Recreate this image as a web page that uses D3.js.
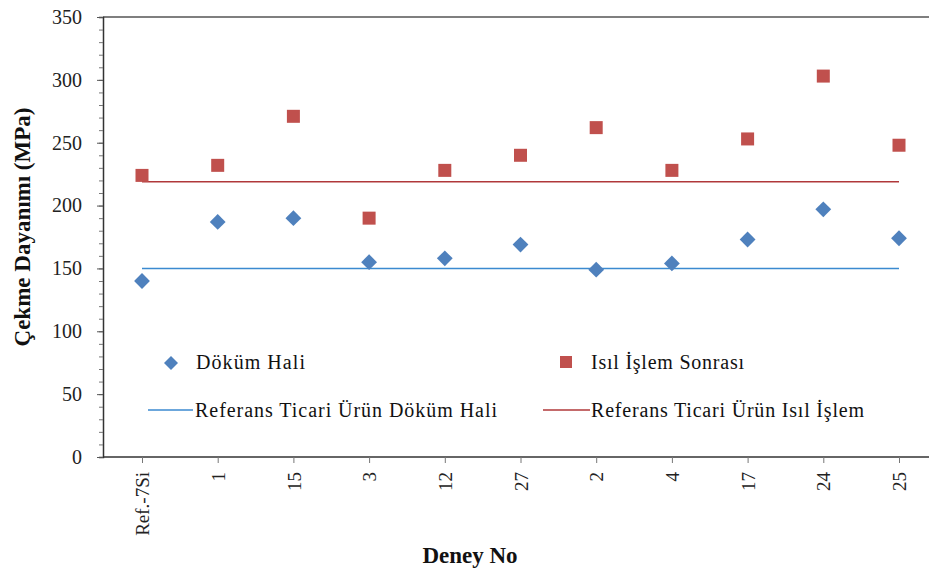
<!DOCTYPE html>
<html>
<head>
<meta charset="utf-8">
<script src="https://cdn.jsdelivr.net/npm/d3@7"></script>
<style>
  body { margin: 0; background: #fff; }
  svg { display: block; }
  text { font-family: "Liberation Serif", "Times New Roman", serif; }
</style>
</head>
<body>
<svg id="chart" width="929" height="572"></svg>
<script>
  // data
  var categories = ["Ref.-7Si", "1", "15", "3", "12", "27", "2", "4", "17", "24", "25"];
  var dokumHali = [140, 187, 190, 155, 158, 169, 149, 154, 173, 197, 174];
  var isilIslem = [224, 232, 271, 190, 228, 240, 262, 228, 253, 303, 248];
  var refDokum = 150;
  var refIsil = 219;
  var yTicks = [0, 50, 100, 150, 200, 250, 300, 350];

  var serif = "Liberation Serif";
  var svg = d3.select("#chart");
  var plotL = 103, plotR = 929, plotT = 17, plotB = 457;

  var x = d3.scalePoint().domain(categories).range([142, 899]);
  var y = d3.scaleLinear().domain([0, 350]).range([plotB, plotT]);

  // top border of plot area
  svg.append("line")
    .attr("x1", plotL).attr("x2", plotR).attr("y1", plotT).attr("y2", plotT)
    .attr("stroke", "#555").attr("stroke-width", 1.5);

  // y axis: minor ticks every 10, majors every 50
  var yAxis = svg.append("g").attr("transform", "translate(" + plotL + ",0)");
  yAxis.call(d3.axisLeft(y).tickValues(d3.range(0, 351, 10)).tickSize(4).tickFormat(""));
  yAxis.selectAll(".tick line").attr("stroke", "#777");
  yAxis.select(".domain").attr("stroke", "#333").attr("stroke-width", 1.5);

  var yMajor = svg.append("g").attr("transform", "translate(" + plotL + ",0)")
    .call(d3.axisLeft(y).tickValues(yTicks).tickSize(6).tickPadding(15));
  yMajor.select(".domain").remove();
  yMajor.selectAll(".tick line").attr("stroke", "#555");
  yMajor.selectAll("text").attr("font-size", 20).attr("fill", "#222")
    .attr("font-family", serif);

  // x axis
  var xAxis = svg.append("g").attr("transform", "translate(0," + plotB + ")")
    .call(d3.axisBottom(x).tickSize(6).tickSizeOuter(0));
  xAxis.select(".domain").attr("d", "M" + plotL + ",0H" + plotR)
    .attr("stroke", "#333").attr("stroke-width", 1.5);
  xAxis.selectAll(".tick line").attr("stroke", "#777");
  xAxis.selectAll("text")
    .attr("font-size", 19).attr("fill", "#222").attr("font-family", serif)
    .attr("text-anchor", "end").attr("dy", "0.35em")
    .attr("transform", "translate(0,15) rotate(-90)")
    .attr("x", 0).attr("y", 0);

  // reference lines
  var xFirst = x(categories[0]), xLast = x(categories[categories.length - 1]);
  svg.append("line")
    .attr("x1", xFirst).attr("x2", xLast)
    .attr("y1", y(refIsil)).attr("y2", y(refIsil))
    .attr("stroke", "#B0383A").attr("stroke-width", 1.5);
  svg.append("line")
    .attr("x1", xFirst).attr("x2", xLast)
    .attr("y1", y(refDokum)).attr("y2", y(refDokum))
    .attr("stroke", "#3B8AD0").attr("stroke-width", 1.5);

  // markers
  svg.selectAll("rect.isil").data(isilIslem).enter().append("rect")
    .attr("class", "isil")
    .attr("x", function(d, i){ return x(categories[i]) - 6.5; })
    .attr("y", function(d){ return y(d) - 6.5; })
    .attr("width", 13).attr("height", 13)
    .attr("fill", "#C0504D");

  var diamond = d3.symbol().type(d3.symbolSquare).size(125);
  svg.selectAll("path.dokum").data(dokumHali).enter().append("path")
    .attr("class", "dokum")
    .attr("d", diamond)
    .attr("transform", function(d, i){ return "translate(" + x(categories[i]) + "," + y(d) + ") rotate(45)"; })
    .attr("fill", "#4F81BD");

  // legend
  var leg = svg.append("g").attr("font-size", 20).attr("fill", "#111").attr("font-family", serif);
  leg.append("path").attr("d", d3.symbol().type(d3.symbolSquare).size(98))
    .attr("transform", "translate(171,363) rotate(45)").attr("fill", "#4F81BD");
  leg.append("text").attr("x", 196).attr("y", 369).attr("textLength", 109).text("Döküm Hali");
  leg.append("rect").attr("x", 560).attr("y", 356).attr("width", 12).attr("height", 12)
    .attr("fill", "#C0504D");
  leg.append("text").attr("x", 591).attr("y", 369).attr("textLength", 153).text("Isıl İşlem Sonrası");
  leg.append("line").attr("x1", 148).attr("x2", 193).attr("y1", 410).attr("y2", 410)
    .attr("stroke", "#3B8AD0").attr("stroke-width", 1.5);
  leg.append("text").attr("x", 195).attr("y", 417).attr("textLength", 302).text("Referans Ticari Ürün Döküm Hali");
  leg.append("line").attr("x1", 543).attr("x2", 590).attr("y1", 410).attr("y2", 410)
    .attr("stroke", "#B0383A").attr("stroke-width", 1.5);
  leg.append("text").attr("x", 591).attr("y", 417).attr("textLength", 273).text("Referans Ticari Ürün Isıl İşlem");

  // axis titles
  svg.append("text")
    .attr("transform", "translate(30,227) rotate(-90)")
    .attr("text-anchor", "middle").attr("font-size", 23).attr("font-weight", "bold")
    .attr("font-family", serif).attr("fill", "#111").text("Çekme Dayanımı (MPa)");
  svg.append("text")
    .attr("x", 470).attr("y", 563)
    .attr("text-anchor", "middle").attr("font-size", 23).attr("font-weight", "bold")
    .attr("font-family", serif).attr("fill", "#111").text("Deney No");
</script>
</body>
</html>
